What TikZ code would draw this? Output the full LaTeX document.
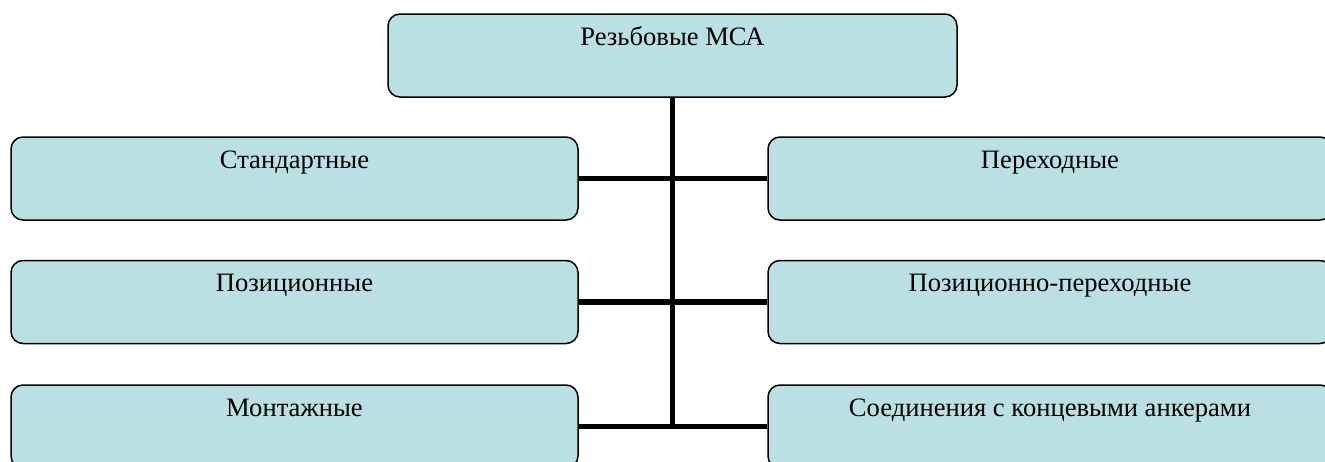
\documentclass[tikz,border=0pt]{standalone}
\usepackage{fontspec}
\setmainfont{Liberation Serif}
\usepackage{xcolor}
\usepackage{tikz}

\definecolor{boxfill}{RGB}{186,224,227}

\tikzset{
    mcabox/.style={draw=black, line width=1.5pt, fill=boxfill, rounded corners=12pt,
        rectangle, inner xsep=0pt, inner ysep=0pt, text height=31pt, text depth=52pt,
        font=\fontsize{26.6}{30}\selectfont},
    link/.style={line width=5.5pt, black}
}

\begin{document}
\begin{tikzpicture}[x=1pt, y=-1pt]
            \useasboundingbox (0, 0) rectangle (1325, 461);

            \node[mcabox, minimum width=569pt] (top) at (672.5, 55.5) {Резьбовые МСА};

            \node[mcabox, minimum width=567pt] (std) at (294.5, 178.5) {Стандартные};
            \node[mcabox, minimum width=567pt] (pos) at (294.5, 302.0) {Позиционные};
            \node[mcabox, minimum width=567pt] (mnt) at (294.5, 426.5) {Монтажные};

            \node[mcabox, minimum width=564pt] (per) at (1050.0, 178.5) {Переходные};
            \node[mcabox, minimum width=564pt] (ppe) at (1050.0, 302.0) {Позиционно-переходные};
            \node[mcabox, minimum width=564pt] (anc) at (1050.0, 426.5) {Соединения с концевыми анкерами};

            \coordinate (spine) at ([yshift=-2.75pt]top.south |- mnt.east);

            \draw[link] (top.south) -- (spine); % trunk
            \draw[link] (std.east) -- (per.west); % row 1
            \draw[link] (pos.east) -- (ppe.west); % row 2
            \draw[link] (mnt.east) -- (anc.west); % row 3
        \end{tikzpicture}
\end{document}
